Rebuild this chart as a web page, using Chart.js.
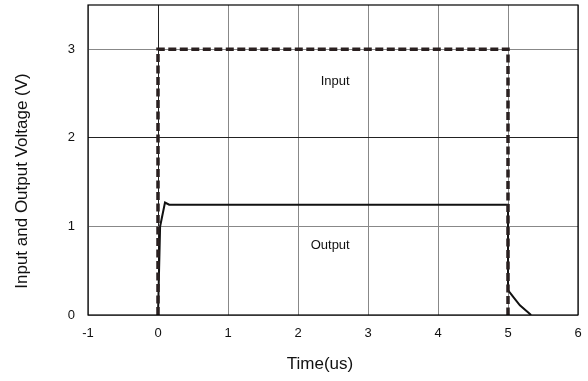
<!DOCTYPE html>
<html><head><meta charset="utf-8">
<script src="https://cdn.jsdelivr.net/npm/chart.js@4"></script>
<style>html,body{margin:0;padding:0;background:#fff}#w{width:588px;height:381px}</style>
</head><body><div id="w"><canvas id="c"></canvas></div>
<script>
const inputX = [0, 0, 5, 5];
const inputY = [0, 3, 3, 0];
const outputX = [0, 0.03, 0.1, 0.16, 5.0, 5.0, 5.08, 5.17, 5.33];
const outputY = [0, 1.0, 1.27, 1.245, 1.245, 0.28, 0.2, 0.11, 0];
const xTicks = [-1, 0, 1, 2, 3, 4, 5, 6];
const yTicks = [0, 1, 2, 3];
const labels = [{text: 'Input', x: 2.53, y: 2.64}, {text: 'Output', x: 2.46, y: 0.79}];
const xTitle = 'Time(us)';
const yTitle = 'Input and Output Voltage (V)';

const pts = (xs, ys) => xs.map((x, i) => ({x, y: ys[i]}));
const FONT = "'Liberation Sans', Arial, sans-serif";

const frame = {
  id: 'frame',
  afterDraw(chart) {
    const {ctx, chartArea: a, scales} = chart;
    ctx.save();
    ctx.strokeStyle = '#000'; ctx.lineWidth = 1.2;
    ctx.strokeRect(a.left, a.top, a.right - a.left, a.bottom - a.top);
    ctx.fillStyle = '#111'; ctx.font = '13px ' + FONT;
    ctx.textAlign = 'center'; ctx.textBaseline = 'middle';
    labels.forEach(l => ctx.fillText(l.text, scales.x.getPixelForValue(l.x), scales.y.getPixelForValue(l.y)));
    // axis titles
    ctx.font = '17px ' + FONT;
    const cx = (a.left + a.right) / 2, cy = (a.top + a.bottom) / 2;
    ctx.fillText(xTitle, cx - 13, a.bottom + 49);
    ctx.translate(a.left - 66, cy + 21);
    ctx.rotate(-Math.PI / 2);
    ctx.fillText(yTitle, 0, 0);
    ctx.restore();
  }
};

new Chart(document.getElementById('c'), {
  type: 'scatter',
  data: {datasets: [
    {data: pts(outputX, outputY), showLine: true, borderColor: '#111', borderWidth: 2, pointRadius: 0, tension: 0, order: 2},
    {data: pts(inputX, inputY), showLine: true, borderColor: '#2a2020', borderWidth: 3.5, borderDash: [8, 3.5], pointRadius: 0, tension: 0, order: 1}
  ]},
  options: {
    responsive: true, maintainAspectRatio: false, animation: false,
    layout: {padding: {left: 10, right: 10, top: 5, bottom: 4}},
    plugins: {legend: {display: false}, tooltip: {enabled: false}},
    scales: {
      x: {type: 'linear', min: -1, max: 6,
        afterBuildTicks: s => { s.ticks = xTicks.map(v => ({value: v})); },
        afterFit: s => { s.height = 62; s.paddingLeft = 0; s.paddingRight = 0; },
        grid: {color: c => (c.tick && c.tick.value === 0) ? '#222' : '#888', lineWidth: 1, drawTicks: false},
        border: {display: false},
        ticks: {color: '#111', font: {size: 13, family: FONT}, padding: 11},
        title: {display: false}
      },
      y: {type: 'linear', min: 0, max: 3.5,
        afterBuildTicks: s => { s.ticks = yTicks.map(v => ({value: v})); },
        afterFit: s => { s.width = 78; s.paddingTop = 0; s.paddingBottom = 0; },
        grid: {color: c => (c.tick && c.tick.value === 2) ? '#222' : '#888', lineWidth: 1, drawTicks: false},
        border: {display: false},
        ticks: {color: '#111', font: {size: 13, family: FONT}, padding: 13},
        title: {display: false}
      }
    }
  },
  plugins: [frame]
});
</script></body></html>
